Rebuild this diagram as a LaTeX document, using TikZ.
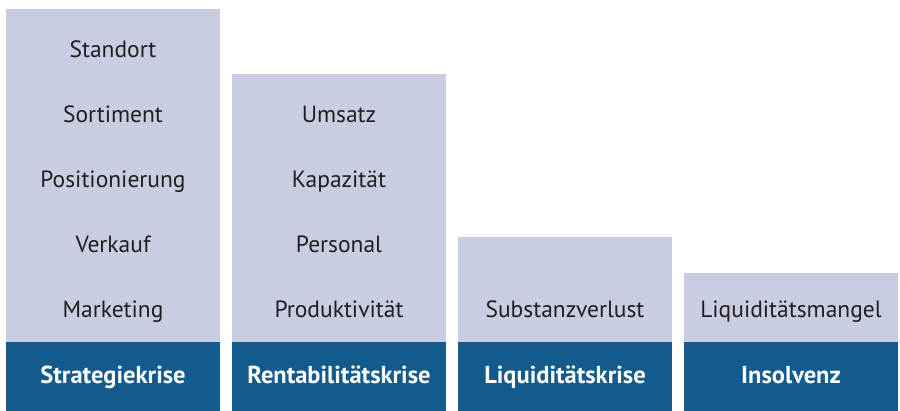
\documentclass[tikz,border=0pt]{standalone}
\usepackage{fontspec}
\setmainfont{PT Sans}
\definecolor{lightbox}{RGB}{200,205,225}
\definecolor{darkbox}{RGB}{18,91,140}
\definecolor{txt}{RGB}{35,31,32}
\begin{document}
\begin{tikzpicture}[x=1pt,y=-1pt,
  colbox/.style={fill=lightbox,draw=none,inner sep=0pt,anchor=north west,minimum width=214pt},
  footbox/.style={fill=darkbox,draw=none,inner sep=0pt,anchor=north west,minimum width=214pt,minimum height=69pt},
  footlabel/.style={text=white,font=\fontsize{24.5}{28}\selectfont\bfseries,inner sep=0pt,anchor=base},
  item/.style={text=txt,font=\fontsize{23.5}{28}\selectfont,inner sep=0pt,anchor=base}]
\useasboundingbox (0,0) rectangle (900,411);
% columns
\node[colbox,minimum height=333pt] (c1) at (6,9) {};
\node[colbox,minimum height=268pt] (c2) at (232,74) {};
\node[colbox,minimum height=105pt] (c3) at (458,237) {};
\node[colbox,minimum height=69pt] (c4) at (684,273) {};
% footers
\node[footbox] (f1) at (6,342) {};
\node[footbox] (f2) at (232,342) {};
\node[footbox] (f3) at (458,342) {};
\node[footbox] (f4) at (684,342) {};
\node[footlabel] (l1) at (113,383.3) {Strategiekrise};
\node[footlabel] (l2) at (339,383.3) {Rentabilitätskrise};
\node[footlabel] (l3) at (565,383.3) {Liquiditätskrise};
\node[footlabel] (l4) at (791,383.3) {Insolvenz};
% items column 1
\node[item] (a1) at (113,57.3) {Standort};
\node[item] (a2) at (113,122.3) {Sortiment};
\node[item] (a3) at (113,187.3) {Positionierung};
\node[item] (a4) at (113,252.3) {Verkauf};
\node[item] (a5) at (113,317.3) {Marketing};
% column 2
\node[item] (b1) at (339,122.3) {Umsatz};
\node[item] (b2) at (339,187.3) {Kapazität};
\node[item] (b3) at (339,252.3) {Personal};
\node[item] (b4) at (339,317.3) {Produktivität};
% column 3
\node[item] (d1) at (565,317.3) {Substanzverlust};
% column 4
\node[item] (e1) at (791,317.3) {Liquiditätsmangel};
\end{tikzpicture}
\end{document}
